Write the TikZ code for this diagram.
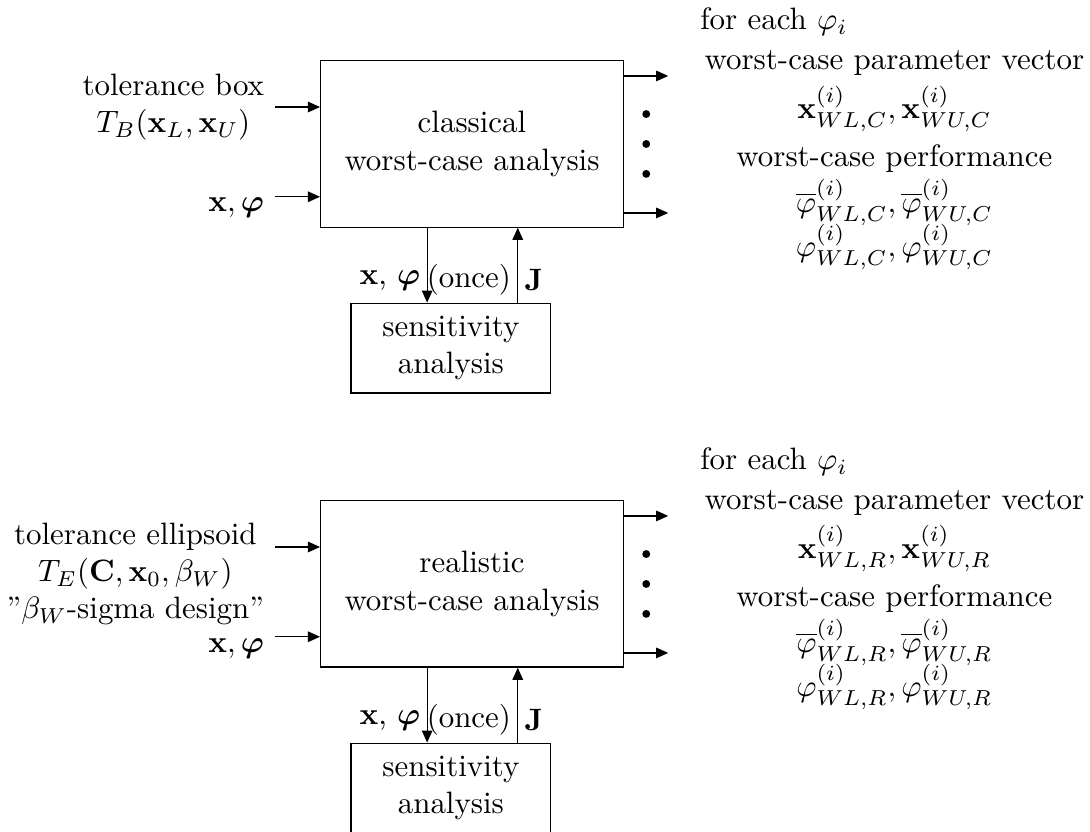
\documentclass[tikz,border=0pt]{standalone}
\usepackage{amssymb}
\usepackage{amsmath}
\usepackage{tikz}
\usetikzlibrary{calc, arrows.meta}
\tikzstyle{block}=[draw, minimum width=3.44cm, minimum height=1.89cm, align=center]
\tikzstyle{sens}=[draw, minimum width=2.27cm, minimum height=1.02cm, align=center]
\tikzstyle{dot}=[circle, fill, inner sep=0pt, minimum size=0.09cm]

\begin{document}
\begin{tikzpicture}[auto,>={Triangle[length=3.9pt,width=3.4pt]}]
      \useasboundingbox (-5.364,1.636) rectangle (7.023,-7.818);
      % classical worst-case analysis
      \node [block] (cwc) at (0,0) {classical\\worst-case analysis};
      \node [sens] (sa1) at (-0.24,-2.32) {sensitivity\\analysis};
      \coordinate (in1) at (-2.24,0.42);
      \coordinate (in2) at (-2.24,-0.60);
      \coordinate (out1) at (2.23,0.773);
      \coordinate (out2) at (2.23,-0.784);
      \coordinate (dn1) at (-0.51,0);
      \coordinate (up1) at (0.52,0);
      \node [left, align=center] (tb) at (in1) {tolerance box\\$T_B(\mathbf{x}_L,\mathbf{x}_U)$};
      \node [left, yshift=-0.12cm] (xp1) at (in2) {$\mathbf{x},\boldsymbol{\varphi}$};
      \draw[->] (in1) -- (in1 -| cwc.west);
      \draw[->] (in2) -- (in2 -| cwc.west);
      \draw[->] (out1 -| cwc.east) -- (out1);
      \draw[->] (out2 -| cwc.east) -- (out2);
      \foreach \y in {0.34,0,-0.34}
        \node [dot] at (1.98,\y) {};
      \node [anchor=west] (each1) at (2.47,1.39) {for each $\varphi_i$};
      \node [align=center] (res1) at (4.80,-0.18) {worst-case parameter vector\\[2.4pt]
        $\mathbf{x}^{(i)}_{WL,C}, \mathbf{x}^{(i)}_{WU,C}$\\[3.6pt]
        worst-case performance\\[1.4pt]
        $\overline{\varphi}^{(i)}_{WL,C}, \overline{\varphi}^{(i)}_{WU,C}$\\[-1.5pt]
        $\varphi^{(i)}_{WL,C}, \varphi^{(i)}_{WU,C}$};
      \draw[->] (dn1 |- cwc.south) -- node[pos=0.7,left,inner sep=2pt] {$\mathbf{x}$, $\boldsymbol{\varphi}$} (dn1 |- sa1.north);
      \draw[->] (up1 |- sa1.north) -- node[pos=0.3,left,inner sep=2pt] {(once)} node[pos=0.3,right,inner sep=2pt] {$\mathbf{J}$} (up1 |- cwc.south);

      % realistic worst-case analysis
      \node [block] (rwc) at (0,-5) {realistic\\worst-case analysis};
      \node [sens] (sa2) at (-0.24,-7.32) {sensitivity\\analysis};
      \coordinate (in3) at (-2.24,-4.58);
      \coordinate (in4) at (-2.24,-5.60);
      \coordinate (out3) at (2.23,-4.227);
      \coordinate (out4) at (2.23,-5.784);
      \coordinate (dn2) at (-0.51,-5);
      \coordinate (up2) at (0.52,-5);
      \node [left, align=center, yshift=-0.31cm] (te) at (in3) {tolerance ellipsoid\\$T_E(\mathbf{C},\mathbf{x}_0,\beta_W)$\\''$\beta_W$-sigma design''};
      \node [left, yshift=-0.14cm] (xp2) at (in4) {$\mathbf{x},\boldsymbol{\varphi}$};
      \draw[->] (in3) -- (in3 -| rwc.west);
      \draw[->] (in4) -- (in4 -| rwc.west);
      \draw[->] (out3 -| rwc.east) -- (out3);
      \draw[->] (out4 -| rwc.east) -- (out4);
      \foreach \y in {-4.66,-5,-5.34}
        \node [dot] at (1.98,\y) {};
      \node [anchor=west] (each2) at (2.47,-3.61) {for each $\varphi_i$};
      \node [align=center] (res2) at (4.80,-5.18) {worst-case parameter vector\\[2.4pt]
        $\mathbf{x}^{(i)}_{WL,R}, \mathbf{x}^{(i)}_{WU,R}$\\[3.6pt]
        worst-case performance\\[1.4pt]
        $\overline{\varphi}^{(i)}_{WL,R}, \overline{\varphi}^{(i)}_{WU,R}$\\[-1.5pt]
        $\varphi^{(i)}_{WL,R}, \varphi^{(i)}_{WU,R}$};
      \draw[->] (dn2 |- rwc.south) -- node[pos=0.7,left,inner sep=2pt] {$\mathbf{x}$, $\boldsymbol{\varphi}$} (dn2 |- sa2.north);
      \draw[->] (up2 |- sa2.north) -- node[pos=0.3,left,inner sep=2pt] {(once)} node[pos=0.3,right,inner sep=2pt] {$\mathbf{J}$} (up2 |- rwc.south);
\end{tikzpicture}
\end{document}
